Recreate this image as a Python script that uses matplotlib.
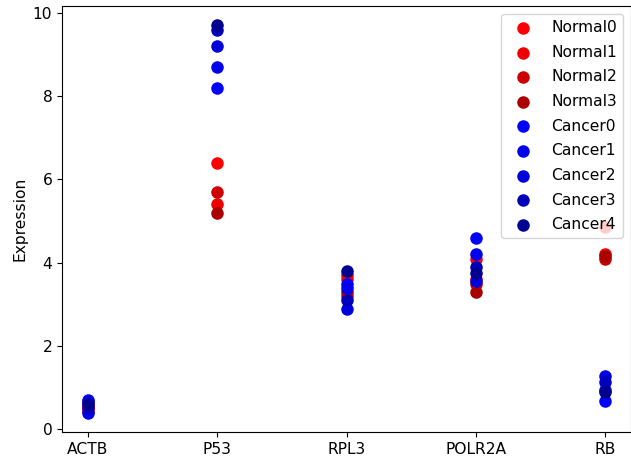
import matplotlib
matplotlib.use("Agg")
import matplotlib.pyplot as plt

genes = ["ACTB", "P53", "RPL3", "POLR2A", "RB"]

normal0 = [0.50, 6.40, 3.70, 4.10, 4.85]
normal1 = [0.60, 5.40, 3.60, 3.60, 4.20]
normal2 = [0.45, 5.70, 3.20, 3.50, 4.10]
normal3 = [0.55, 5.20, 3.30, 3.30, 4.15]

cancer0 = [0.70, 8.20, 3.50, 4.60, 0.68]
cancer1 = [0.40, 8.70, 3.40, 4.20, 0.95]
cancer2 = [0.65, 9.20, 2.90, 3.56, 1.27]
cancer3 = [0.50, 9.60, 3.10, 3.90, 1.14]
cancer4 = [0.60, 9.70, 3.80, 3.75, 0.90]

normal_series = [normal0, normal1, normal2, normal3]
cancer_series = [cancer0, cancer1, cancer2, cancer3, cancer4]
normal_labels = ["Normal0", "Normal1", "Normal2", "Normal3"]
cancer_labels = ["Cancer0", "Cancer1", "Cancer2", "Cancer3", "Cancer4"]
normal_colors = ["#ff0000", "#ee0000", "#cc0000", "#aa0000"]
cancer_colors = ["#0000ff", "#0000ee", "#0000dd", "#0000bb", "#000090"]

plt.rcParams["font.size"] = 11.2

fig = plt.figure(figsize=(6.31, 4.58), dpi=100)
ax = fig.add_axes([62 / 631, 26 / 458, 569 / 631, 426 / 458])

x = list(range(len(genes)))
for vals, lab, col in zip(normal_series, normal_labels, normal_colors):
    ax.scatter(x, vals, s=64, color=col, label=lab)
for vals, lab, col in zip(cancer_series, cancer_labels, cancer_colors):
    ax.scatter(x, vals, s=64, color=col, label=lab)

ax.set_xticks(x)
ax.set_xticklabels(genes)
ax.set_ylabel("Expression")
ax.legend(loc="upper right", labelspacing=0.62)

fig.savefig("out.png", dpi=100)
